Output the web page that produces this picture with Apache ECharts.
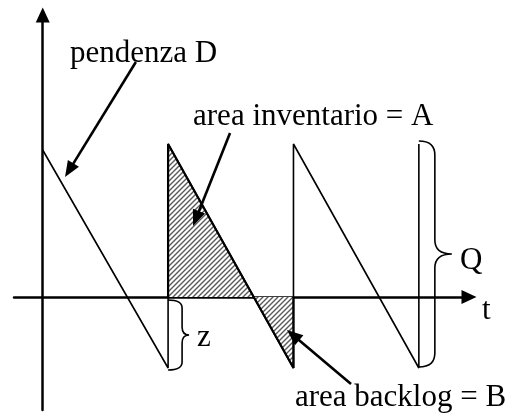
<!DOCTYPE html>
<html>
<head>
<meta charset="utf-8">
<script src="https://cdn.jsdelivr.net/npm/echarts@6/dist/echarts.min.js"></script>
<style>
  html, body { margin: 0; padding: 0; background: #fff; }
  #chart { width: 522px; height: 414px; }
</style>
</head>
<body>
<div id="chart"></div>
<script>
// livelli di inventario del dente di sega (unita' arbitrarie)
var cycleT = [0, 1, 2, 3];           // istanti di riordino
var peakLevel = [147, 153, 153, 153]; // livello subito dopo l'arrivo
var troughLevel = [-71, -71, -71];    // backlog massimo (-z)
var hatchedCycle = 1;                 // ciclo tratteggiato

var serifFont = '"Liberation Serif", "Times New Roman", serif';

// sawtooth
var sawData = [[cycleT[0], peakLevel[0]]];
for (var i = 0; i < troughLevel.length; i++) {
    sawData.push([cycleT[i + 1], troughLevel[i]]);
    sawData.push([cycleT[i + 1], peakLevel[i + 1]]);
}

// area A + area B
var h = hatchedCycle;
var hatchData = [
    [cycleT[h], 0],
    [cycleT[h], peakLevel[h]],
    [cycleT[h + 1], troughLevel[h]],
    [cycleT[h + 1], 0]
];

// pattern a righe oblique
function makeHatch() {
    var s = 5;
    var c = document.createElement('canvas');
    c.width = s;
    c.height = s;
    var ctx = c.getContext('2d');
    ctx.fillStyle = '#fff';
    ctx.fillRect(0, 0, s, s);
    ctx.strokeStyle = '#5a5a5a';
    ctx.lineWidth = 1.4;
    ctx.beginPath();
    ctx.moveTo(0, s); ctx.lineTo(s, 0);
    ctx.moveTo(-1, 1); ctx.lineTo(1, -1);
    ctx.moveTo(s - 1, s + 1); ctx.lineTo(s + 1, s - 1);
    ctx.stroke();
    return c;
}

// annotazioni (ancorate a coordinate dati)
var labels = [
    { text: 'pendenza D', at: [0.218, 234] },
    { text: 'area inventario = A', at: [1.199, 171] },
    { text: 'area backlog = B', at: [2.012, -110] },
    { text: 'z', at: [1.231, -50] },
    { text: 'Q', at: [3.328, 27] },
    { text: 't', at: [3.503, -23] }
];
var arrows = [
    { from: [0.743, 235], to: [0.178, 120] },
    { from: [1.494, 164], to: [1.199, 71] },
    { from: [2.459, -87], to: [1.948, -33] }
];
var braces = [
    { t: 1, top: -3, bottom: -73, arm: 14, tip: 7, r: 8 },
    { t: 3, top: 156, bottom: -70, arm: 16, tip: 17, r: 14 }
];

function renderNotes(params, api) {
    var children = [];
    labels.forEach(function (l) {
        var p = api.coord(l.at);
        children.push({
            type: 'text',
            x: p[0],
            y: p[1] - 9.5,
            style: {
                text: l.text,
                font: '31px ' + serifFont,
                fill: '#000',
                align: 'left',
                verticalAlign: 'middle'
            }
        });
    });
    arrows.forEach(function (a) {
        var p0 = api.coord(a.from);
        var p1 = api.coord(a.to);
        var dx = p1[0] - p0[0], dy = p1[1] - p0[1];
        var len = Math.sqrt(dx * dx + dy * dy);
        var ux = dx / len, uy = dy / len;
        var hl = 16, hw = 6.5;
        var bx = p1[0] - ux * hl, by = p1[1] - uy * hl;
        children.push({
            type: 'line',
            shape: { x1: p0[0], y1: p0[1], x2: bx + ux * 2, y2: by + uy * 2 },
            style: { stroke: '#000', lineWidth: 2.6 }
        });
        children.push({
            type: 'polygon',
            shape: { points: [
                [p1[0], p1[1]],
                [bx - uy * hw, by + ux * hw],
                [bx + uy * hw, by - ux * hw]
            ] },
            style: { fill: '#000' }
        });
    });
    braces.forEach(function (b) {
        var pt = api.coord([b.t, b.top]);
        var pb = api.coord([b.t, b.bottom]);
        var x0 = pt[0], y1 = pt[1], y2 = pb[1];
        var xa = x0 + b.arm, xt = xa + b.tip, ym = (y1 + y2) / 2, r = b.r;
        var d = 'M' + x0 + ' ' + y1 +
            ' Q' + xa + ' ' + y1 + ' ' + xa + ' ' + (y1 + r) +
            ' L' + xa + ' ' + (ym - r) +
            ' Q' + xa + ' ' + ym + ' ' + xt + ' ' + ym +
            ' Q' + xa + ' ' + ym + ' ' + xa + ' ' + (ym + r) +
            ' L' + xa + ' ' + (y2 - r) +
            ' Q' + xa + ' ' + y2 + ' ' + x0 + ' ' + y2;
        children.push({
            type: 'path',
            shape: { pathData: d },
            style: { stroke: '#000', fill: null, lineWidth: 1.6 }
        });
    });
    return { type: 'group', children: children };
}

var chart = echarts.init(document.getElementById('chart'));

var axisCommon = {
    type: 'value',
    axisLine: {
        show: true,
        onZero: true,
        symbol: ['none', 'triangle'],
        symbolSize: [14, 15],
        lineStyle: { color: '#000', width: 2.5 }
    },
    axisTick: { show: false },
    axisLabel: { show: false },
    splitLine: { show: false }
};

var option = {
    animation: false,
    backgroundColor: '#fff',
    grid: { left: 14, right: 53, top: 15, bottom: 4, outerBoundsMode: 'none' },
    xAxis: Object.assign({}, axisCommon, { min: -0.229, max: 3.40 }),
    yAxis: Object.assign({}, axisCommon, { min: -113, max: 282 }),
    series: [{
        type: 'line',
        data: hatchData,
        symbol: 'none',
        lineStyle: { color: '#000', width: 2.2 },
        areaStyle: { color: { image: makeHatch(), repeat: 'repeat' }, opacity: 1 },
        z: 2
    }, {
        type: 'line',
        data: sawData,
        symbol: 'none',
        lineStyle: { color: '#000', width: 1.6 },
        z: 3
    }, {
        type: 'custom',
        data: [[0, 0]],
        clip: false,
        renderItem: renderNotes,
        z: 5
    }]
};

chart.setOption(option);
</script>
</body>
</html>
